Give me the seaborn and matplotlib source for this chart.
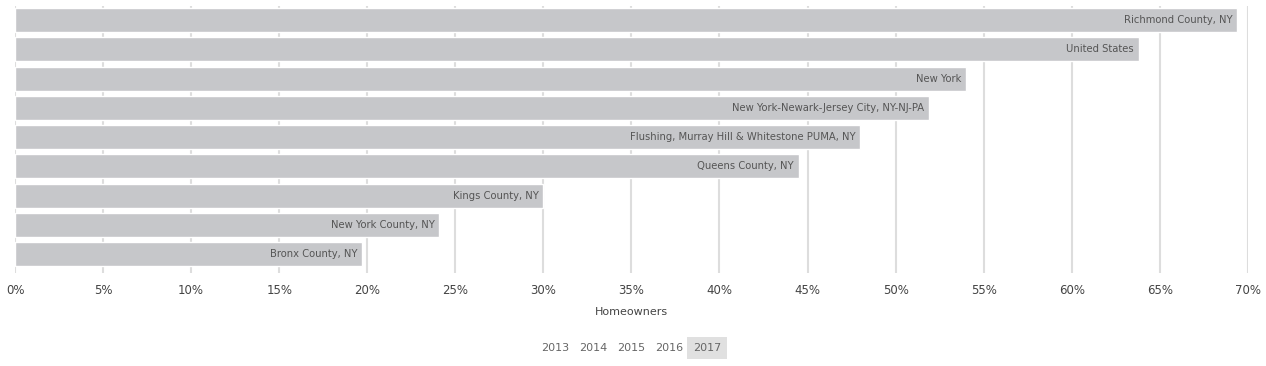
import matplotlib
matplotlib.use("Agg")
import matplotlib.pyplot as plt
from matplotlib import font_manager
import seaborn as sns
import pandas as pd

places = [
    "Richmond County, NY",
    "United States",
    "New York",
    "New York-Newark-Jersey City, NY-NJ-PA",
    "Flushing, Murray Hill & Whitestone PUMA, NY",
    "Queens County, NY",
    "Kings County, NY",
    "New York County, NY",
    "Bronx County, NY",
]
homeowners = [69.4, 63.8, 54.0, 51.9, 48.0, 44.5, 30.0, 24.1, 19.7]
ticks = [0, 5, 10, 15, 20, 25, 30, 35, 40, 45, 50, 55, 60, 65, 70]
years = ["2013", "2014", "2015", "2016", "2017"]
active_year = "2017"

df = pd.DataFrame({"place": places, "value": homeowners})

sns.set_theme(style="white")
plt.rcParams["font.family"] = ["DejaVu Sans"]

# narrow face for the bar labels: try a condensed font, else squeeze DejaVu
installed = {f.name for f in font_manager.fontManager.ttflist}
narrow = None
for cand in ["Liberation Sans Narrow", "DejaVu Sans Condensed"]:
    if cand in installed:
        narrow = cand
        break
label_kw = dict(fontsize=8, color="#555555")
if narrow:
    label_kw["family"] = [narrow, "DejaVu Sans"]
else:
    label_kw["family"] = ["DejaVu Sans"]
    label_kw["fontstretch"] = "condensed"

fig = plt.figure(figsize=(12.66, 3.66), dpi=100)
ax = fig.add_axes([0.01185, 0.254, 0.9738, 0.7296])

sns.barplot(data=df, x="value", y="place", orient="h", color="#c6c7ca",
            saturation=1, width=0.82, ax=ax, zorder=2)

for i, (name, v) in enumerate(zip(places, homeowners)):
    ax.annotate(name, (v, i), xytext=(-3.5, 0), textcoords="offset points",
                ha="right", va="center", zorder=3, **label_kw)

ax.set_xlim(0, 70)
ax.set_ylim(8.65, -0.48)
ax.set_xticks(ticks)
ax.set_xticklabels([f"{t}%" for t in ticks], fontsize=8.5, color="#444444")
ax.set_yticks([])
ax.set_ylabel("")
ax.set_xlabel("Homeowners", fontsize=8, color="#444444", labelpad=7)
ax.tick_params(axis="x", length=0, pad=8)
ax.xaxis.grid(True, color="#dddddd", linewidth=1.5, zorder=0)
ax.set_axisbelow(True)
for s in ax.spines.values():
    s.set_visible(False)

# year selector
xs = [555, 593, 631, 669, 707]
for y, xp in zip(years, xs):
    kw = {}
    if y == active_year:
        kw["bbox"] = dict(boxstyle="square,pad=0.5", fc="#e0e0e0", ec="none")
    fig.text(xp / 1266, 1 - 348 / 366, y, ha="center", va="center",
             fontsize=8, color="#666666", **kw)

fig.savefig("out.png", dpi=100)
